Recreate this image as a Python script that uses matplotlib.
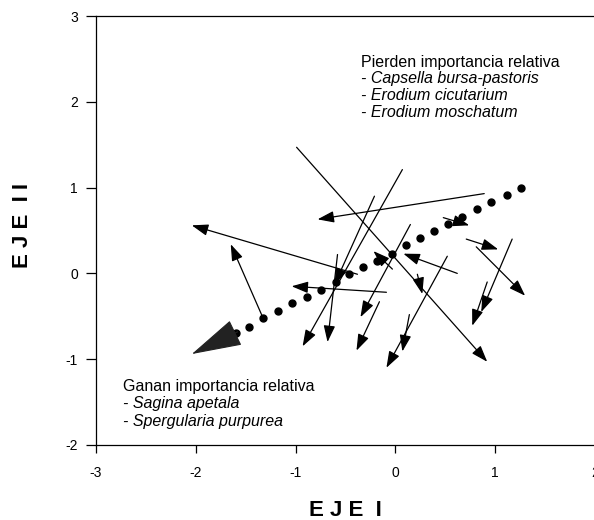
import matplotlib
matplotlib.use("Agg")
import matplotlib.pyplot as plt

plt.rcParams['font.family'] = ['Liberation Sans', 'DejaVu Sans']
plt.rcParams['axes.unicode_minus'] = False

# trayectoria principal (puntos)
dot_x = [-1.60, -1.47, -1.33, -1.18, -1.04, -0.89, -0.75, -0.60, -0.46, -0.32, -0.18,
         -0.03, 0.11, 0.25, 0.39, 0.53, 0.67, 0.82, 0.96, 1.12, 1.26]
dot_y = [-0.69, -0.62, -0.52, -0.44, -0.35, -0.28, -0.19, -0.10, -0.01, 0.07, 0.15,
         0.23, 0.33, 0.41, 0.49, 0.57, 0.66, 0.75, 0.83, 0.91, 0.99]

# flecha grande al final de la trayectoria
big_x = [-1.58, -2.04]
big_y = [-0.68, -0.94]

# flechas de cada parcela: origen (x0, y0) -> destino (x1, y1)
arr_x0 = [0.89, -0.38, -1.33, -0.09, -0.03, 0.62, 0.48, 0.71, 0.81, 0.22,
          -0.21, 0.07, -0.58, 0.15, -0.16, 0.14, 0.52, -0.99, 1.17, 0.92]
arr_y0 = [0.93, -0.01, -0.51, -0.22, 0.05, 0.00, 0.65, 0.40, 0.31, -0.01,
          0.90, 1.21, 0.22, 0.57, -0.33, -0.48, 0.20, 1.47, 0.40, -0.10]
arr_x1 = [-0.78, -2.04, -1.65, -1.04, -0.22, 0.08, 0.74, 1.03, 1.30, 0.27,
          -0.61, -0.93, -0.68, -0.35, -0.39, 0.07, -0.09, 0.92, 0.86, 0.77]
arr_y1 = [0.63, 0.56, 0.34, -0.15, 0.26, 0.23, 0.56, 0.28, -0.26, -0.24,
          -0.13, -0.85, -0.80, -0.51, -0.90, -0.91, -1.10, -1.03, -0.45, -0.61]

fig = plt.figure(figsize=(5.94, 5.20), dpi=100)
ax = fig.add_axes([96/594, 75/520, 499/594, 429/520])

for i in range(len(arr_x0)):
    ax.annotate("", xy=(arr_x1[i], arr_y1[i]), xytext=(arr_x0[i], arr_y0[i]),
                arrowprops=dict(arrowstyle="-|>,head_length=1.0,head_width=0.35",
                                mutation_scale=10, lw=0.9, color="black",
                                shrinkA=0, shrinkB=0))

ax.plot(dot_x, dot_y, "o", color="black", markersize=5, zorder=3)

ax.annotate("", xy=(big_x[1], big_y[1]), xytext=(big_x[0], big_y[0]),
            arrowprops=dict(arrowstyle="-|>,head_length=3.3,head_width=0.9",
                            mutation_scale=10, lw=0.8, color="#222222",
                            shrinkA=0, shrinkB=0))

ax.set_xlim(-3, 2)
ax.set_ylim(-2, 3)
ax.set_xticks([-3, -2, -1, 0, 1, 2])
ax.set_yticks([-2, -1, 0, 1, 2, 3])
ax.spines['right'].set_visible(False)
for s in ['left', 'top', 'bottom']:
    ax.spines[s].set_linewidth(0.9)
ax.tick_params(axis='y', direction='out', length=7, width=0.9, pad=6, labelsize=10)
ax.tick_params(axis='x', direction='out', length=6, width=0.9, pad=9, labelsize=10)

fs = 11.5
ax.text(-0.34, 2.46, "Pierden importancia relativa", fontsize=fs, va='center')
ax.text(-0.34, 2.27, "- Capsella bursa-pastoris", fontsize=fs, style='italic', va='center')
ax.text(-0.34, 2.07, "- Erodium cicutarium", fontsize=fs, style='italic', va='center')
ax.text(-0.34, 1.88, "- Erodium moschatum", fontsize=fs, style='italic', va='center')

ax.text(-2.73, -1.32, "Ganan importancia relativa", fontsize=fs, va='center')
ax.text(-2.73, -1.52, "- Sagina apetala", fontsize=fs, style='italic', va='center')
ax.text(-2.73, -1.73, "- Spergularia purpurea", fontsize=fs, style='italic', va='center')

fig.text(345/594, 1 - 511/520, "E J E  I", fontsize=16, fontweight='bold',
         ha='center', va='center')
fig.text(22/594, 1 - 226/520, "E J E  I I", fontsize=16, fontweight='bold',
         ha='center', va='center', rotation=90)

fig.savefig("out.png", dpi=100)
